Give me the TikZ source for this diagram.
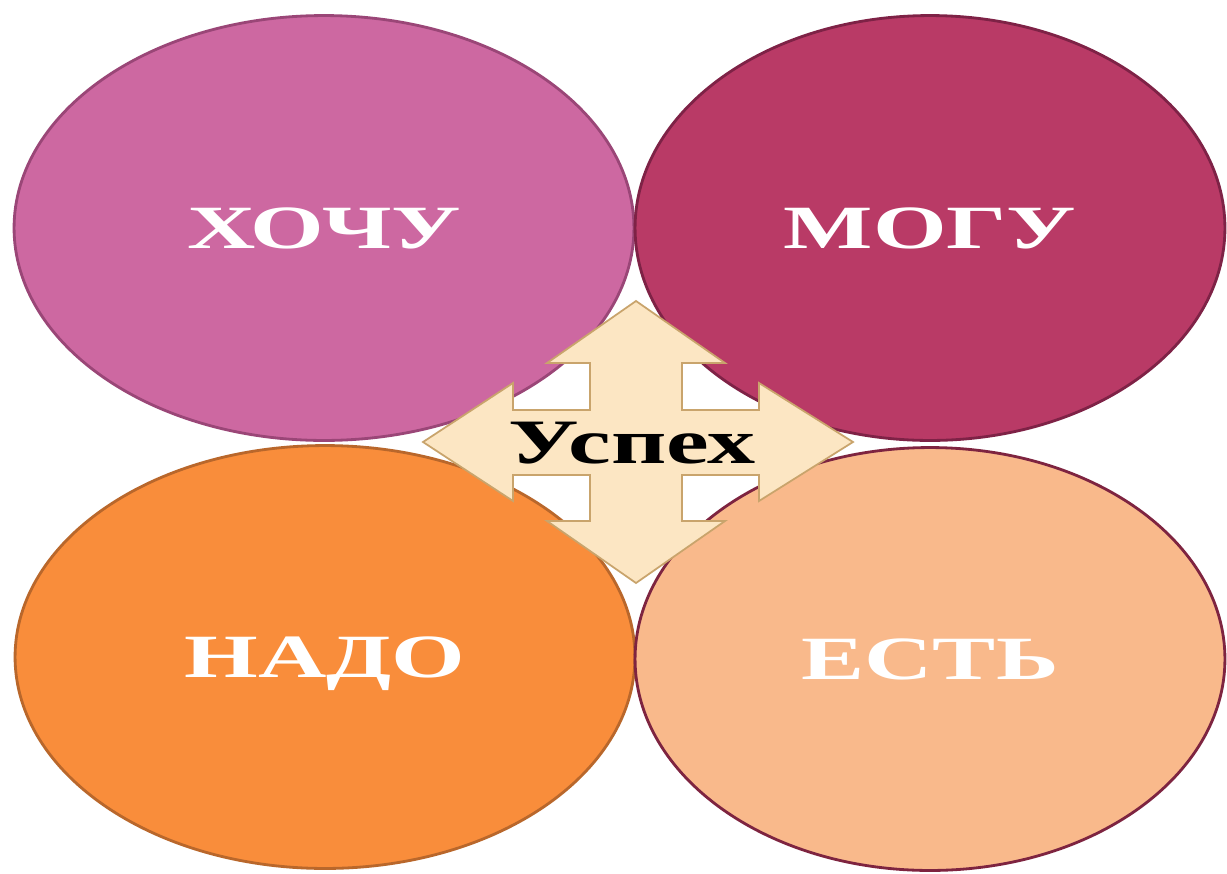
\documentclass[tikz,border=0pt]{standalone}
\usepackage{fontspec}
\setmainfont{Liberation Serif}
\usetikzlibrary{shapes.geometric}

\definecolor{wantfill}{HTML}{CD68A1}
\definecolor{wantline}{HTML}{9A4677}
\definecolor{canfill}{HTML}{B93A66}
\definecolor{canline}{HTML}{7E2246}
\definecolor{mustfill}{HTML}{F98D3B}
\definecolor{mustline}{HTML}{B9672B}
\definecolor{havefill}{HTML}{F9B98B}
\definecolor{haveline}{HTML}{7E2440}
\definecolor{arrowfill}{HTML}{FCE6C3}
\definecolor{arrowline}{HTML}{C9A46C}

\tikzset{
  wish/.style={ellipse, draw, line width=1.6pt, inner sep=0pt,
    minimum height=8.5cm, text=white, text height=0.8cm, text depth=0cm,
    font=\fontsize{35}{40}\selectfont\bfseries},
  goal/.style={inner sep=0pt, text height=0.82cm, text depth=0cm,
    font=\fontsize{36}{40}\selectfont\bfseries}
}

\begin{document}
\begin{tikzpicture}[x=0.02cm, y=-0.02cm]

      \useasboundingbox[fill=white] (0,0) rectangle (1227,873);

      \node[wish, fill=wantfill, draw=wantline, minimum width=12.4cm] (want) at (324,228) {\scalebox{1.54}[1]{ХОЧУ}};
      \node[wish, fill=canfill, draw=canline, minimum width=11.8cm] (can) at (930,228) {\scalebox{1.54}[1]{МОГУ}};
      \node[wish, fill=mustfill, draw=mustline, minimum width=12.4cm, minimum height=8.46cm] (must) at (325,657) {\scalebox{1.54}[1]{НАДО}};
      \node[wish, fill=havefill, draw=haveline, minimum width=11.8cm, minimum height=8.46cm] (have) at (930,659) {\scalebox{1.54}[1]{ЕСТЬ}};

      \draw[fill=arrowfill, draw=arrowline, line width=1pt, line join=miter]
        (636,301) -- (725,363) -- (682,363) -- (682,410) -- (759,410) -- (759,383)
        -- (853,442) -- (759,501) -- (759,475) -- (682,475) -- (682,521) -- (725,521)
        -- (636,583) -- (547,521) -- (590,521) -- (590,475) -- (513,475) -- (513,501)
        -- (423,442) -- (513,383) -- (513,410) -- (590,410) -- (590,363) -- (547,363) -- cycle;

      \node[goal] (success) at (632,443) {\scalebox{1.52}[1]{Успех}};

    \end{tikzpicture}
\end{document}
